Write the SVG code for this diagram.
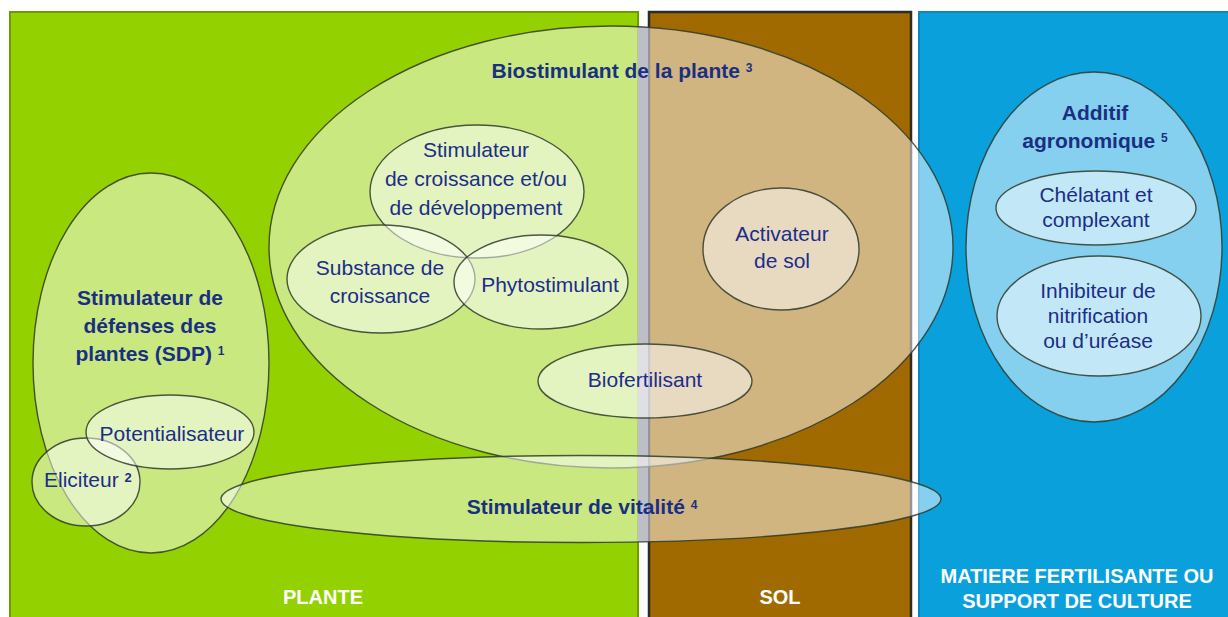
<svg xmlns="http://www.w3.org/2000/svg" width="1228" height="617" viewBox="0 0 1228 617">
<style>
.ov{fill:#ffffff;fill-opacity:0.5;stroke:#2f3a2a;stroke-opacity:0.85;stroke-width:1.4}
.t{font-family:"Liberation Sans",Arial,sans-serif;font-size:21px;fill:#1c2d8a;text-anchor:middle}
.b{font-family:"Liberation Sans",Arial,sans-serif;font-size:21px;font-weight:bold;fill:#1a2f82;text-anchor:middle}
.sup{font-size:12px;font-weight:bold}
.p{font-family:"Liberation Sans",Arial,sans-serif;font-size:20px;font-weight:bold;fill:#ffffff;text-anchor:middle}
</style>
<defs>
<clipPath id="gapclip">
<ellipse cx="611" cy="247" rx="342" ry="221"/>
<ellipse cx="581" cy="499" rx="360" ry="43.5"/>
</clipPath>
</defs>
<rect width="1228" height="617" fill="#ffffff"/>
<g id="panel-plante">
<rect x="10" y="12" width="628" height="620" fill="#93d200" stroke="#6c9c00" stroke-width="2"/>
<text class="p" x="323" y="604">PLANTE</text>
</g>
<g id="panel-sol">
<rect x="649" y="12" width="262" height="620" fill="#a06a00" stroke="#2b2b2b" stroke-width="2.5"/>
<text class="p" x="780" y="604">SOL</text>
</g>
<g id="panel-matiere">
<rect x="919" y="12" width="320" height="620" fill="#0aa0dc" stroke="#0a86be" stroke-width="2"/>
<text class="p" x="1077" y="583">MATIERE FERTILISANTE OU</text>
<text class="p" x="1077" y="608">SUPPORT DE CULTURE</text>
</g>
<rect x="638" y="12" width="10" height="540" fill="#7d7d90" clip-path="url(#gapclip)"/>
<g id="biostimulant">
<ellipse class="ov" cx="611" cy="247" rx="342" ry="221"/>
<text class="b" x="622" y="78">Biostimulant de la plante <tspan class="sup" dy="-6">3</tspan></text>
</g>
<g id="sdp">
<ellipse class="ov" cx="151" cy="363" rx="118" ry="190"/>
<text class="b" x="150" y="305">Stimulateur de</text>
<text class="b" x="150" y="333">défenses des</text>
<text class="b" x="150" y="361">plantes (SDP) <tspan class="sup" dy="-6">1</tspan></text>
</g>
<g id="vitalite">
<ellipse class="ov" cx="581" cy="499" rx="360" ry="43.5"/>
<text class="b" x="582" y="514">Stimulateur de vitalité <tspan class="sup" dy="-5">4</tspan></text>
</g>
<g id="eliciteur">
<ellipse class="ov" cx="86" cy="482" rx="54" ry="44"/>
<text class="t" x="44" y="487" style="text-anchor:start">Eliciteur <tspan class="sup" dy="-5" style="font-size:13px">2</tspan></text>
</g>
<g id="potentialisateur">
<ellipse class="ov" cx="170" cy="432" rx="84" ry="37"/>
<text class="t" x="172" y="441">Potentialisateur</text>
</g>
<g id="stimulateur-croissance">
<ellipse class="ov" cx="477" cy="191.5" rx="107" ry="66.5"/>
<text class="t" x="476" y="157">Stimulateur</text>
<text class="t" x="476" y="186">de croissance et/ou</text>
<text class="t" x="476" y="215">de développement</text>
</g>
<g id="substance-croissance">
<ellipse class="ov" cx="381" cy="279" rx="94" ry="54"/>
<text class="t" x="380" y="275">Substance de</text>
<text class="t" x="380" y="303">croissance</text>
</g>
<g id="phytostimulant">
<ellipse class="ov" cx="541" cy="282" rx="87" ry="47"/>
<text class="t" x="550" y="292">Phytostimulant</text>
</g>
<g id="activateur-sol">
<ellipse class="ov" cx="781" cy="249" rx="78" ry="61"/>
<text class="t" x="782" y="241">Activateur</text>
<text class="t" x="782" y="268">de sol</text>
</g>
<g id="biofertilisant">
<ellipse class="ov" cx="645" cy="381" rx="107" ry="37"/>
<text class="t" x="645" y="387">Biofertilisant</text>
</g>
<g id="additif">
<ellipse class="ov" cx="1094" cy="247" rx="128" ry="175"/>
<text class="b" x="1095" y="120">Additif</text>
<text class="b" x="1095" y="148">agronomique <tspan class="sup" dy="-6">5</tspan></text>
</g>
<g id="chelatant">
<ellipse class="ov" cx="1096" cy="208" rx="100" ry="37"/>
<text class="t" x="1096" y="202">Chélatant et</text>
<text class="t" x="1096" y="227">complexant</text>
</g>
<g id="inhibiteur">
<ellipse class="ov" cx="1099" cy="316" rx="102" ry="60"/>
<text class="t" x="1098" y="298">Inhibiteur de</text>
<text class="t" x="1098" y="323">nitrification</text>
<text class="t" x="1098" y="348">ou d’uréase</text>
</g>
<g id="connectors"></g>
</svg>
